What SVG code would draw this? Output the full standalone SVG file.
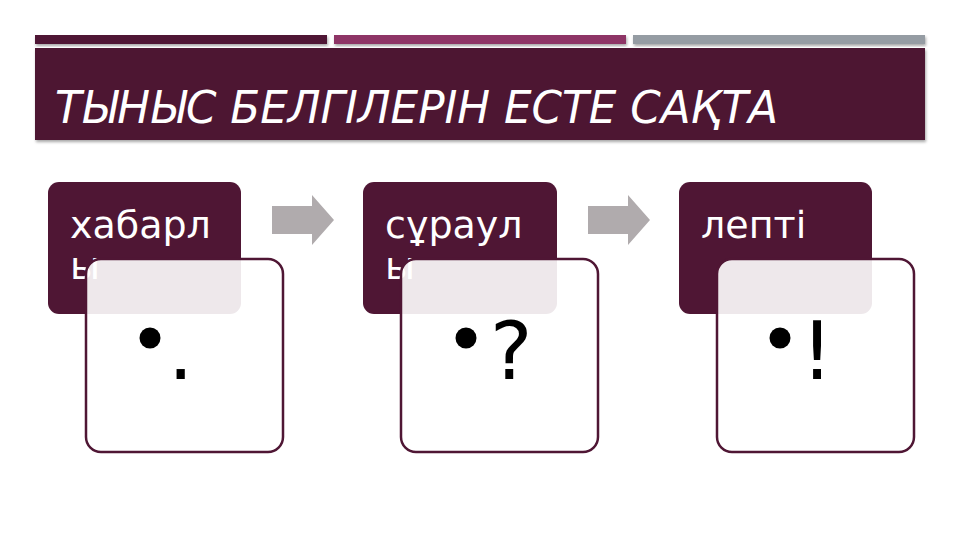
<svg xmlns="http://www.w3.org/2000/svg" width="960" height="540" viewBox="0 0 960 540">
<defs>
<filter id="sh" x="-5%" y="-20%" width="110%" height="150%">
<feGaussianBlur in="SourceAlpha" stdDeviation="1.5"/>
<feOffset dx="1" dy="2"/>
<feComponentTransfer><feFuncA type="linear" slope="0.35"/></feComponentTransfer>
<feMerge><feMergeNode/><feMergeNode in="SourceGraphic"/></feMerge>
</filter>
<style>
.card{fill:#4f1634}
.box{fill:#ffffff;fill-opacity:0.9;stroke:#4f1634;stroke-width:2.5}
.lbl{font-family:"DejaVu Sans",sans-serif;font-size:38px;fill:#ffffff}
.big{font-family:"DejaVu Sans",sans-serif;font-size:80px;fill:#000000}
.arrow{fill:#b0abad}
</style>
</defs>
<rect width="960" height="540" fill="#ffffff"/>
<g id="bars" filter="url(#sh)">
<rect x="35" y="35" width="292" height="9" fill="#4f1634"/>
<rect x="334" y="35" width="292" height="9" fill="#8e3466"/>
<rect x="633" y="35" width="292" height="9" fill="#959ca3"/>
</g>
<g id="title">
<rect x="35" y="48" width="890" height="92" fill="#4e1733" filter="url(#sh)"/>
<text x="55" y="123" font-family="DejaVu Sans, sans-serif" font-style="italic" font-size="44" fill="#ffffff" textLength="723" lengthAdjust="spacingAndGlyphs">ТЫНЫС БЕЛГІЛЕРІН ЕСТЕ САҚТА</text>
</g>
<g id="connectors">
<polygon class="arrow" points="272,206 312,206 312,195 334,220 312,245 312,234 272,234"/>
<polygon class="arrow" points="588,206 628,206 628,195 650,220 628,245 628,234 588,234"/>
</g>
<g id="node1">
<rect class="card" x="48" y="182" width="193" height="132" rx="11"/>
<text class="lbl" x="70" y="238">хабарл</text>
<text class="lbl" x="70" y="279">ы</text>
<rect class="box" x="86" y="259" width="197" height="193" rx="15"/>
<circle cx="150" cy="338" r="10.5" fill="#000000"/>
<text class="big" x="168" y="379">.</text>
</g>
<g id="node2">
<rect class="card" x="363" y="182" width="194" height="132" rx="11"/>
<text class="lbl" x="385" y="238">сұраул</text>
<text class="lbl" x="385" y="279">ы</text>
<rect class="box" x="401" y="259" width="197" height="193" rx="15"/>
<circle cx="466" cy="338" r="10.5" fill="#000000"/>
<text class="big" x="490" y="379">?</text>
</g>
<g id="node3">
<rect class="card" x="679" y="182" width="193" height="132" rx="11"/>
<text class="lbl" x="701" y="238">лепті</text>
<rect class="box" x="717" y="259" width="197" height="193" rx="15"/>
<circle cx="780" cy="338" r="10.5" fill="#000000"/>
<text class="big" x="801" y="379">!</text>
</g>
</svg>
